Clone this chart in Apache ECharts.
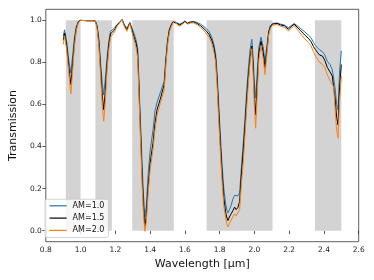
<!DOCTYPE html>
<html>
<head>
<meta charset="utf-8">
<script src="https://cdn.jsdelivr.net/npm/echarts@6/dist/echarts.min.js"></script>
<style>html,body{margin:0;padding:0;background:#fff}#c{width:374px;height:280px}</style>
</head>
<body>
<div id="c"></div>
<script>
var wavelength = [0.900,0.908,0.920,0.932,0.944,0.955,0.965,0.975,0.987,1.000,1.010,1.040,1.070,1.085,1.095,1.105,1.115,1.125,1.133,1.142,1.152,1.162,1.172,1.182,1.195,1.207,1.222,1.239,1.252,1.267,1.283,1.295,1.308,1.318,1.328,1.335,1.341,1.348,1.354,1.362,1.370,1.378,1.388,1.400,1.417,1.428,1.440,1.460,1.481,1.490,1.500,1.510,1.520,1.532,1.542,1.555,1.570,1.585,1.600,1.615,1.630,1.650,1.670,1.690,1.710,1.725,1.740,1.755,1.767,1.777,1.786,1.795,1.805,1.815,1.824,1.834,1.842,1.848,1.856,1.866,1.876,1.886,1.895,1.905,1.915,1.925,1.937,1.947,1.956,1.966,1.975,1.985,1.993,2.000,2.007,2.015,2.025,2.038,2.050,2.061,2.072,2.082,2.092,2.104,2.115,2.130,2.150,2.172,2.195,2.212,2.229,2.245,2.267,2.290,2.310,2.325,2.340,2.352,2.363,2.375,2.392,2.405,2.420,2.435,2.448,2.456,2.464,2.473,2.481,2.490,2.500];
var am15 = [0.905,0.940,0.880,0.780,0.695,0.800,0.900,0.960,0.993,1.000,1.000,0.998,0.998,0.996,0.970,0.900,0.770,0.640,0.575,0.660,0.790,0.880,0.935,0.942,0.955,0.974,0.988,1.003,0.975,0.955,0.988,0.955,0.920,0.895,0.850,0.700,0.550,0.400,0.260,0.110,0.018,0.070,0.200,0.320,0.420,0.510,0.575,0.630,0.695,0.800,0.895,0.950,0.975,0.992,1.000,0.985,0.978,0.985,0.995,0.985,0.990,0.992,0.985,0.975,0.960,0.948,0.932,0.905,0.870,0.820,0.710,0.560,0.400,0.260,0.155,0.090,0.060,0.048,0.065,0.080,0.095,0.112,0.100,0.110,0.140,0.260,0.390,0.510,0.630,0.740,0.820,0.878,0.780,0.640,0.551,0.680,0.840,0.900,0.850,0.775,0.860,0.940,0.970,0.982,0.982,0.985,0.978,0.974,0.958,0.970,0.982,0.968,0.950,0.930,0.915,0.900,0.875,0.860,0.847,0.835,0.830,0.810,0.775,0.755,0.735,0.730,0.630,0.540,0.503,0.680,0.790];
var am10 = [0.925,0.955,0.900,0.810,0.750,0.840,0.920,0.970,0.995,1.000,1.000,0.998,0.998,0.997,0.975,0.915,0.800,0.700,0.645,0.720,0.820,0.900,0.948,0.955,0.963,0.978,0.990,1.004,0.980,0.962,0.990,0.965,0.935,0.910,0.870,0.730,0.590,0.450,0.320,0.170,0.065,0.120,0.260,0.380,0.480,0.570,0.610,0.660,0.710,0.815,0.905,0.955,0.978,0.994,1.002,0.988,0.982,0.988,0.997,0.988,0.993,0.995,0.990,0.982,0.970,0.960,0.945,0.920,0.885,0.840,0.740,0.600,0.440,0.300,0.200,0.130,0.095,0.085,0.100,0.120,0.150,0.168,0.160,0.165,0.180,0.300,0.430,0.550,0.670,0.780,0.860,0.910,0.820,0.700,0.630,0.740,0.870,0.920,0.875,0.806,0.880,0.950,0.975,0.985,0.985,0.988,0.982,0.978,0.965,0.975,0.985,0.975,0.960,0.945,0.930,0.918,0.895,0.880,0.870,0.860,0.850,0.835,0.805,0.790,0.765,0.760,0.680,0.600,0.575,0.760,0.855];
var am20 = [0.885,0.925,0.860,0.750,0.650,0.770,0.880,0.950,0.990,1.000,1.000,0.998,0.998,0.995,0.962,0.880,0.740,0.590,0.520,0.610,0.760,0.860,0.920,0.928,0.945,0.968,0.985,1.002,0.970,0.948,0.985,0.945,0.905,0.875,0.825,0.670,0.520,0.360,0.220,0.075,-0.003,0.040,0.170,0.290,0.390,0.480,0.550,0.610,0.670,0.780,0.880,0.940,0.968,0.988,0.998,0.980,0.972,0.980,0.993,0.982,0.987,0.988,0.980,0.968,0.950,0.935,0.918,0.890,0.850,0.800,0.680,0.520,0.360,0.220,0.120,0.060,0.030,0.018,0.035,0.050,0.065,0.080,0.070,0.078,0.100,0.220,0.340,0.470,0.590,0.710,0.800,0.865,0.740,0.590,0.487,0.630,0.810,0.880,0.820,0.743,0.840,0.930,0.962,0.976,0.976,0.980,0.972,0.968,0.950,0.962,0.976,0.958,0.935,0.912,0.895,0.880,0.850,0.830,0.815,0.800,0.790,0.775,0.740,0.715,0.695,0.685,0.580,0.480,0.440,0.620,0.735];
var bandStart = [0.915, 1.085, 1.297, 1.725, 2.348];
var bandEnd   = [1.000, 1.180, 1.536, 2.104, 2.500];
var yTicks = [0, 0.2, 0.4, 0.6, 0.8, 1.0];
var seriesNames = ['AM=1.0', 'AM=1.5', 'AM=2.0'];

function pairs(ys){ return wavelength.map(function(w,i){ return [w, ys[i]]; }); }
var bands = bandStart.map(function(s,i){ return [{xAxis:s, yAxis:0},{xAxis:bandEnd[i], yAxis:1}]; });

var chart = echarts.init(document.getElementById('c'), null, {renderer:'canvas'});
var font = 'DejaVu Sans';
chart.setOption({
  animation:false,
  textStyle:{fontFamily:font},
  grid:{left:41.7, right:15.3, top:9.3, bottom:38.3, show:true, borderColor:'#333', borderWidth:0.8, backgroundColor:'transparent'},
  legend:{
    data:seriesNames, orient:'vertical', left:45, top:199.3,
    itemWidth:17, itemHeight:8, itemGap:4.3, padding:[2.5,4,3,4],
    itemStyle:{opacity:0},
    lineStyle:{width:1.2},
    backgroundColor:'rgba(255,255,255,0.8)', borderColor:'#ccc', borderWidth:0.8, borderRadius:2,
    textStyle:{fontFamily:font, fontSize:8, color:'#111', padding:[0,0,0,1]}
  },
  xAxis:{
    type:'value', min:0.8, max:2.6, interval:0.2,
    name:'Wavelength [µm]', nameLocation:'middle', nameGap:16,
    nameTextStyle:{fontFamily:font, fontSize:11, color:'#111'},
    axisLine:{show:false},
    axisTick:{show:true, inside:false, length:3.5, lineStyle:{color:'#333', width:0.8}},
    axisLabel:{fontFamily:font, fontSize:7.5, color:'#222', margin:4, formatter:function(v){return v.toFixed(1);}},
    splitLine:{show:false}
  },
  yAxis:{
    type:'value', min:-0.0525, max:1.0525,
    name:'Transmission', nameLocation:'middle', nameGap:21,
    nameTextStyle:{fontFamily:font, fontSize:11, color:'#111'},
    axisLine:{show:false},
    axisTick:{show:true, inside:false, length:3.5, customValues:yTicks, lineStyle:{color:'#333', width:0.8}},
    axisLabel:{fontFamily:font, fontSize:7.5, color:'#222', margin:4, customValues:yTicks, formatter:function(v){return v.toFixed(1);}},
    splitLine:{show:false}
  },
  series:[
    {name:'bands', type:'line', data:[], z:1, silent:true,
     markArea:{silent:true, itemStyle:{color:'#d3d3d3', opacity:1}, data:bands}},
    {name:seriesNames[0], type:'line', data:pairs(am10), symbol:'none', z:2, color:'#1f77b4', lineStyle:{width:1, color:'#1f77b4'}},
    {name:seriesNames[1], type:'line', data:pairs(am15), symbol:'none', z:3, color:'#000000', lineStyle:{width:1, color:'#000000'}},
    {name:seriesNames[2], type:'line', data:pairs(am20), symbol:'none', z:4, color:'#ff7f0e', lineStyle:{width:1, color:'#ff7f0e'}}
  ]
});
</script>
</body>
</html>
